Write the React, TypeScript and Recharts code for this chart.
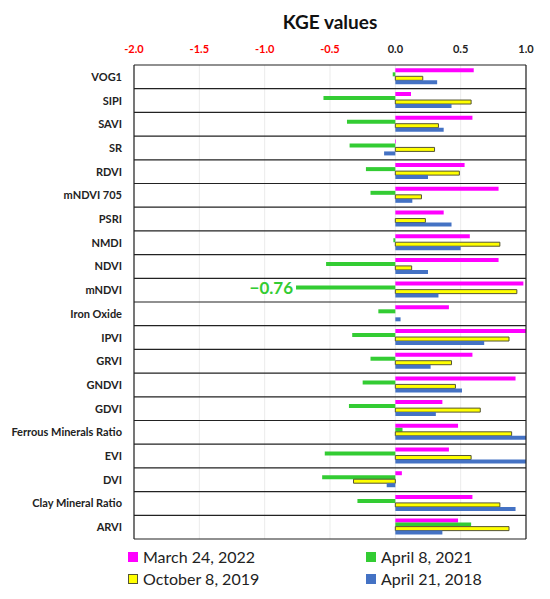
import { FC } from 'react';
import { Bar, BarChart, CartesianGrid, LabelList, ReferenceLine, XAxis, YAxis } from 'recharts';

const indices = [
    'VOG1', 'SIPI', 'SAVI', 'SR', 'RDVI', 'mNDVI 705', 'PSRI', 'NMDI', 'NDVI', 'mNDVI',
    'Iron Oxide', 'IPVI', 'GRVI', 'GNDVI', 'GDVI', 'Ferrous Minerals Ratio', 'EVI', 'DVI',
    'Clay Mineral Ratio', 'ARVI',
];

const march2022 = [0.6, 0.12, 0.59, 0.005, 0.53, 0.79, 0.37, 0.57, 0.79, 0.98, 0.41, 1.0, 0.59, 0.92, 0.36, 0.48, 0.41, 0.05, 0.59, 0.48];
const april2021 = [-0.02, -0.55, -0.37, -0.35, -0.225, -0.19, 0, -0.015, -0.53, -0.76, -0.13, -0.33, -0.19, -0.25, -0.355, 0.055, -0.54, -0.56, -0.29, 0.58];
const october2019 = [0.21, 0.58, 0.33, 0.3, 0.49, 0.2, 0.23, 0.8, 0.125, 0.93, 0, 0.87, 0.43, 0.46, 0.65, 0.89, 0.58, -0.32, 0.8, 0.87];
const april2018 = [0.32, 0.43, 0.37, -0.086, 0.25, 0.13, 0.43, 0.5, 0.25, 0.33, 0.04, 0.68, 0.27, 0.51, 0.31, 1.0, 1.0, -0.066, 0.92, 0.36];

const xTicks = [-2, -1.5, -1, -0.5, 0, 0.5, 1];

const series = [
    { key: 'm22', name: 'March 24, 2022', fill: '#ff00ff', stroke: 'none' },
    { key: 'a21', name: 'April 8, 2021', fill: '#33cc33', stroke: 'none' },
    { key: 'o19', name: 'October 8, 2019', fill: '#ffff00', stroke: '#555533' },
    { key: 'a18', name: 'April 21, 2018', fill: '#4472c4', stroke: 'none' },
];

const data = indices.map((name, i) => ({
    name,
    m22: march2022[i],
    a21: april2021[i],
    o19: october2019[i],
    a18: april2018[i],
}));

const TopTick: FC<any> = ({ x, y, payload }) => {
    const v = payload.value as number;
    return (
        <text x={x} y={y - 6} textAnchor="middle" fontSize={11} fontWeight={700} fill={v < 0 ? '#ff0000' : '#222'}>
            {v.toFixed(1)}
        </text>
    );
};

// one line per label, no wrapping
const NameTick: FC<any> = ({ x, y, payload }) => (
    <text x={x} y={y + 4} textAnchor="end" fontSize={11} fontWeight={700} fill="#222">
        {payload.value}
    </text>
);

// only the clipped mNDVI bar gets its value written next to it
const BigNegLabel: FC<any> = ({ x, y, width, height, value }) => {
    if (value > -0.7) return null;
    const left = Math.min(x, x + width);
    return (
        <text x={left - 3} y={y + height / 2 + 6} textAnchor="end" fontSize={17} fontWeight={700} fill="#33cc33">
            {'\u2212' + Math.abs(value).toFixed(2)}
        </text>
    );
};

const rowLines = ({ offset }: any) => {
    const n = indices.length;
    return Array.from({ length: n + 1 }, (_, i) => offset.top + (i * offset.height) / n);
};

const App: FC = () => {
    return (
        <div style={{ position: 'relative', width: 542, height: 585, fontFamily: 'Lato, sans-serif' }}>
            <div style={{ position: 'absolute', top: 2, left: 0, width: 644, textAlign: 'center', fontSize: 19, fontWeight: 700, color: '#111' }}>
                KGE values
            </div>
            <BarChart
                width={542}
                height={585}
                data={data}
                layout="vertical"
                margin={{ top: 37, right: 24, bottom: 54, left: 6 }}
                barCategoryGap="14%"
                barGap={0}
            >
                <CartesianGrid vertical horizontal={false} stroke="#ebebeb" />
                <CartesianGrid vertical={false} horizontal stroke="#222" strokeWidth={1.2} horizontalCoordinatesGenerator={rowLines} />
                <XAxis
                    type="number"
                    orientation="top"
                    domain={[-2, 1]}
                    ticks={xTicks}
                    allowDataOverflow
                    height={20}
                    tickSize={0}
                    tickMargin={6}
                    axisLine={false}
                    tickLine={false}
                    tick={<TopTick />}
                />
                <YAxis
                    type="category"
                    dataKey="name"
                    width={120}
                    tickSize={0}
                    tickMargin={12}
                    axisLine={false}
                    tickLine={false}
                    interval={0}
                    tick={<NameTick />}
                />
                <ReferenceLine x={-2} stroke="#222" strokeWidth={1.2} />
                <ReferenceLine x={1} stroke="#222" strokeWidth={1.2} />
                {series.map(s => (
                    <Bar key={s.key} dataKey={s.key} name={s.name} fill={s.fill} stroke={s.stroke} strokeWidth={1} isAnimationActive={false}>
                        {s.key === 'a21' && <LabelList dataKey="a21" content={<BigNegLabel />} />}
                    </Bar>
                ))}
            </BarChart>
            {series.map((s, i) => (
                <div
                    key={s.key}
                    style={{
                        position: 'absolute',
                        left: i % 2 === 0 ? 120 : 358,
                        top: i < 2 ? 539 : 561,
                        display: 'flex',
                        alignItems: 'center',
                        fontSize: 16,
                        color: '#222',
                        whiteSpace: 'nowrap',
                    }}
                >
                    <span style={{ display: 'inline-block', width: 10, height: 10, boxSizing: 'border-box', background: s.fill, border: s.stroke === 'none' ? 'none' : `1px solid ${s.stroke}`, marginRight: 5 }} />
                    {s.name}
                </div>
            ))}
        </div>
    );
};

export default App;
